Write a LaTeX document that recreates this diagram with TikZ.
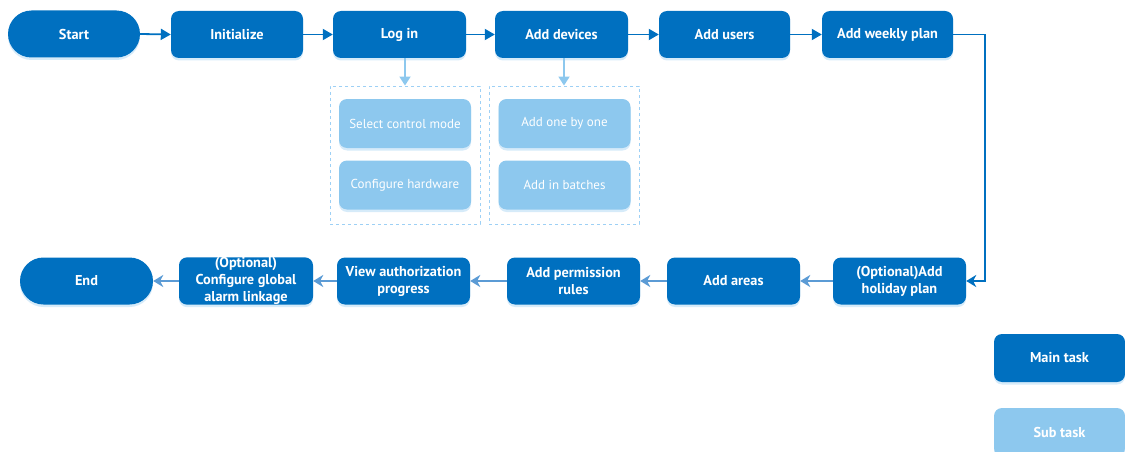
\documentclass[tikz,border=0pt]{standalone}
\usepackage{fontspec}
\setmainfont{PT Sans}
\usetikzlibrary{arrows.meta,shadows}
\definecolor{mainblue}{HTML}{0070C0}
\definecolor{subblue}{HTML}{8DC8EE}
\definecolor{arrowlight}{HTML}{5B9BD5}
\definecolor{dashblue}{HTML}{9DD0F5}
\definecolor{shadowblue}{HTML}{C5E2F7}
\begin{document}
\begin{tikzpicture}[x=1pt,y=-1pt,
  boxshadow/.style={drop shadow={shadow xshift=0pt, shadow yshift=-2.5pt, fill=shadowblue, opacity=0.7}},
  mainbox/.style={fill=mainblue, rounded corners=8pt, minimum width=132pt, minimum height=47pt,
    text=white, font=\bfseries\fontsize{14.3}{17}\selectfont, align=center, inner sep=0pt, boxshadow},
  pillbox/.style={mainbox, rounded corners=23.5pt},
  subbox/.style={fill=subblue, rounded corners=8pt, minimum width=132pt, minimum height=49pt,
    text=white, font=\fontsize{13}{15}\selectfont, align=center, inner sep=0pt, boxshadow},
  legsub/.style={subbox, font=\bfseries\fontsize{14.3}{17}\selectfont},
  dashbox/.style={draw=dashblue, dashed, line width=0.9pt, minimum width=150pt, minimum height=138pt, inner sep=0pt},
  toparrow/.style={draw=mainblue, line width=1.8pt, -{Triangle[length=10pt,width=11pt]}},
  botarrow/.style={draw=arrowlight, line width=1.8pt, -{Stealth[length=10pt,width=12pt,inset=3pt]}},
  downarrow/.style={draw=subblue, line width=1.8pt, -{Triangle[length=9pt,width=11pt]}},
  turnarrow/.style={draw=mainblue, line width=1.5pt, -{Stealth[length=10pt,width=12pt,inset=3pt]}}
]
\useasboundingbox (0,0) rectangle (1125,452);

% top row
\node[pillbox, minimum width=132pt] (start) at (74,34) {Start};
\node[mainbox] (init) at (237,34.5) {Initialize};
\node[mainbox, minimum width=133pt] (login) at (399.5,34.5) {Log in};
\node[mainbox, minimum width=133pt] (adddev) at (561.5,34.5) {Add devices};
\node[mainbox, minimum width=131pt] (addusers) at (724.5,34.5) {Add users};
\node[mainbox, minimum width=131pt] (weekly) at (887.5,34.5) {Add weekly plan};

% dashed groups
\node[dashbox] (grp1) at (405,155) {};
\node[dashbox] (grp2) at (564,155) {};
\node[subbox] (selmode) at (405,123.5) {Select control mode};
\node[subbox] (hw) at (405,185) {Configure hardware};
\node[subbox] (onebyone) at (564.5,123.5) {Add one by one};
\node[subbox] (batches) at (564.5,185) {Add in batches};

% bottom row
\node[pillbox, minimum width=133pt] (endn) at (86.5,281) {End};
\node[mainbox, minimum width=134pt] (global) at (246,281) {(Optional)\\Configure global\\alarm linkage};
\node[mainbox, minimum width=133pt] (view) at (403.5,281) {View authorization\\progress};
\node[mainbox, minimum width=133pt] (perm) at (573.5,281) {Add permission\\rules};
\node[mainbox, minimum width=133pt] (areas) at (733.5,281) {Add areas};
\node[mainbox, minimum width=133pt] (holiday) at (899.5,281) {(Optional)Add\\holiday plan};

% legend
\node[mainbox, minimum width=131pt, minimum height=48pt] (legmain) at (1059.5,358) {Main task};
\node[legsub, minimum width=131pt, minimum height=48pt] (legsubn) at (1059.5,432) {Sub task};

% connectors top row
\draw[toparrow] (start.east) -- (init.west);
\draw[toparrow] (init.east) -- (login.west);
\draw[toparrow] (login.east) -- (adddev.west);
\draw[toparrow] (adddev.east) -- (addusers.west);
\draw[toparrow] (addusers.east) -- (weekly.west);

% turn
\coordinate (corner) at (985,34.5);
\draw[turnarrow] (weekly.east) -- (corner) |- (holiday.east);

% down arrows
\draw[downarrow] (grp1.north |- login.south) -- (grp1.north);
\draw[downarrow] (grp2.north |- adddev.south) -- (grp2.north);

% bottom row
\draw[botarrow] (holiday.west) -- (areas.east);
\draw[botarrow] (areas.west) -- (perm.east);
\draw[botarrow] (perm.west) -- (view.east);
\draw[botarrow] (view.west) -- (global.east);
\draw[botarrow] (global.west) -- (endn.east);
\end{tikzpicture}
\end{document}
